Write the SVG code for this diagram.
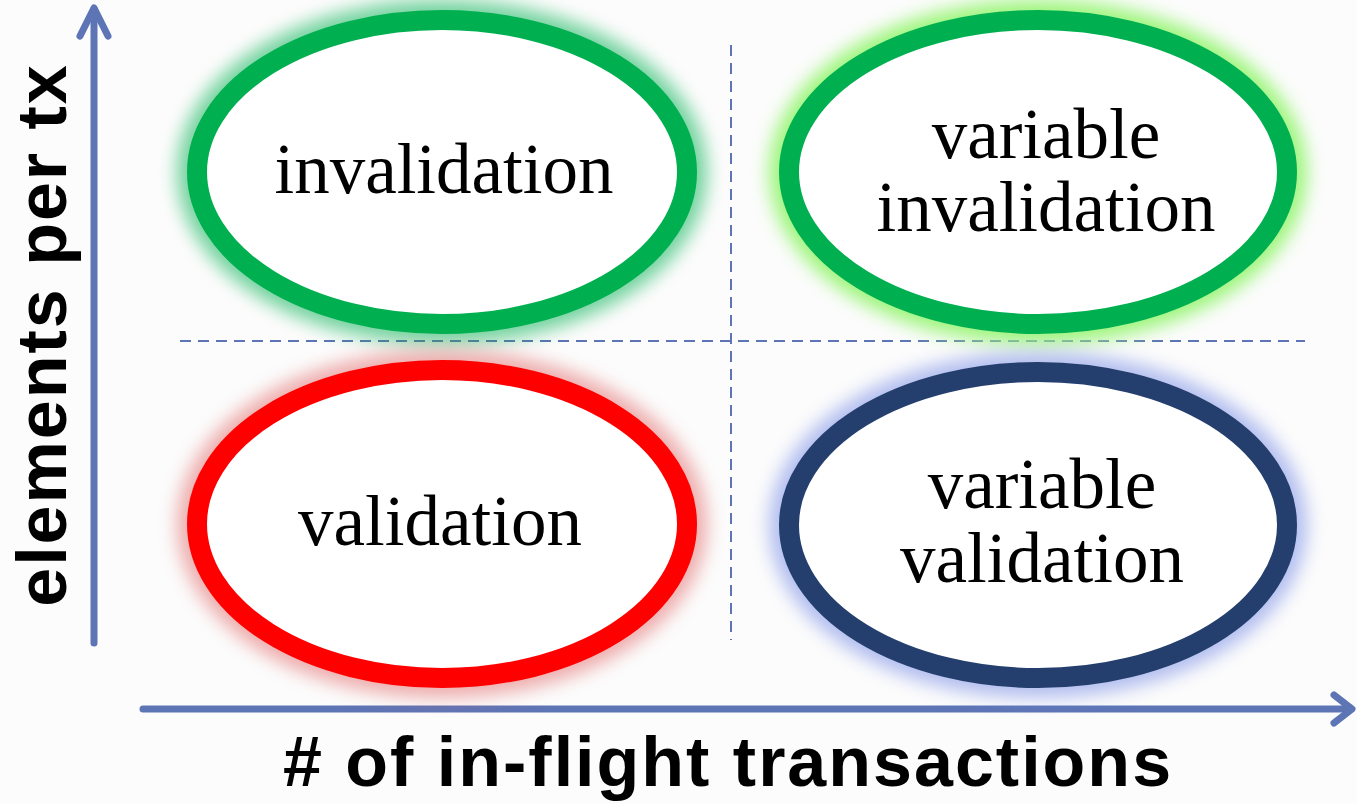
<svg xmlns="http://www.w3.org/2000/svg" width="1357" height="804" viewBox="0 0 1357 804">
  <style>
    .axis { stroke: #5d74b5; stroke-width: 7; fill: none; stroke-linecap: round; stroke-linejoin: round; }
    .grid { stroke: #5d74b5; stroke-width: 2; fill: none; stroke-dasharray: 11 7; }
    .ring { fill: #ffffff; stroke-width: 20; }
    .halo { fill: none; stroke-width: 40; filter: url(#soft); }
    .label { font-family: "Liberation Serif", "Times New Roman", serif; font-size: 71px; fill: #000; text-anchor: middle; }
    .axislabel { font-family: "Liberation Sans", Arial, sans-serif; font-weight: bold; font-size: 70px; fill: #000; text-anchor: middle; letter-spacing: 2px; }
  </style>
  <defs>
    <filter id="soft" x="-20%" y="-20%" width="140%" height="140%">
      <feGaussianBlur stdDeviation="9"/>
    </filter>
  </defs>

  <rect width="1357" height="804" fill="#fcfcfc"/>

  <!-- quadrant dividers and axes -->
  <g id="connectors">
    <line class="grid" x1="180" y1="341" x2="1305" y2="341"/>
    <line class="grid" x1="731" y1="45" x2="731" y2="640"/>
    <line class="axis" x1="94" y1="643" x2="94" y2="9"/>
    <polyline class="axis" points="80,36 94,8 108,36"/>
    <line class="axis" x1="143" y1="709" x2="1350" y2="709"/>
    <polyline class="axis" points="1334,695 1352,709 1334,723"/>
  </g>

  <g id="invalidation">
    <ellipse class="halo" cx="442" cy="172" rx="245" ry="152" stroke="#00b050" opacity="0.55"/>
    <ellipse class="ring" cx="442" cy="172" rx="245" ry="152" stroke="#00b050"/>
    <text class="label" x="444" y="193">invalidation</text>
  </g>

  <g id="variable-invalidation">
    <ellipse class="halo" cx="1038" cy="172" rx="249" ry="152" stroke="#9cf57a" opacity="1"/>
    <ellipse class="ring" cx="1038" cy="172" rx="249" ry="152" stroke="#00b050"/>
    <text class="label" x="1046" y="158">variable</text>
    <text class="label" x="1046" y="231">invalidation</text>
  </g>

  <g id="validation">
    <ellipse class="halo" cx="442" cy="524" rx="245" ry="154" stroke="#e26a6a" opacity="0.55"/>
    <ellipse class="ring" cx="442" cy="524" rx="245" ry="154" stroke="#ff0000"/>
    <text class="label" x="440" y="545">validation</text>
  </g>

  <g id="variable-validation">
    <ellipse class="halo" cx="1038" cy="525" rx="249" ry="153" stroke="#7f93e6" opacity="0.6"/>
    <ellipse class="ring" cx="1038" cy="525" rx="249" ry="153" stroke="#243f6e"/>
    <text class="label" x="1042" y="508">variable</text>
    <text class="label" x="1042" y="582">validation</text>
  </g>

  <g id="axis-labels">
    <text class="axislabel" transform="translate(66,335) rotate(-90)">elements per tx</text>
    <text class="axislabel" x="728" y="786">#  of in-flight transactions</text>
  </g>
</svg>
